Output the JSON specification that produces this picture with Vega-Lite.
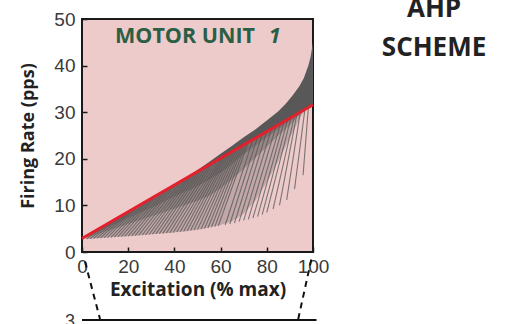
{
  "$schema": "https://vega.github.io/schema/vega-lite/v6.json",
  "width": 231,
  "height": 233,
  "autosize": "none",
  "padding": {"left": 82, "top": 19, "right": 201, "bottom": 72},
  "background": "white",
  "config": {
    "view": {"fill": "#eecbcb", "stroke": "#1a1a1a", "strokeWidth": 2},
    "axis": {"grid": false, "domain": false, "labelFont": "Liberation Sans", "labelFontSize": 19, "labelColor": "#3a3a3a", "tickColor": "#1a1a1a", "tickSize": -5, "tickWidth": 1.5, "titleFont": "Open Sans", "titleFontWeight": "bold", "titleColor": "#222222", "labelFlush": false}
  },
  "datasets": {
    "bands": [
      {"x": 2, "b1": 2.8, "b2": 3.1, "b3": 3.3, "red": 3.5},
      {"x": 10, "b1": 3.1, "b2": 4.4, "b3": 5.1, "red": 5.8},
      {"x": 20, "b1": 3.4, "b2": 6.0, "b3": 7.3, "red": 8.6},
      {"x": 30, "b1": 3.8, "b2": 7.6, "b3": 9.5, "red": 11.5},
      {"x": 40, "b1": 4.2, "b2": 9.3, "b3": 11.9, "red": 14.4},
      {"x": 50, "b1": 4.8, "b2": 11.0, "b3": 14.1, "red": 17.25},
      {"x": 55, "b1": 5.3, "b2": 12.0, "b3": 15.5, "red": 18.7},
      {"x": 60, "b1": 5.8, "b2": 13.6, "b3": 17.0, "red": 20.1},
      {"x": 65, "b1": 6.6, "b2": 15.6, "b3": 19.0, "red": 21.6},
      {"x": 70, "b1": 8.2, "b2": 17.8, "b3": 21.0, "red": 23.0},
      {"x": 75, "b1": 11.0, "b2": 20.2, "b3": 22.8, "red": 24.4},
      {"x": 80, "b1": 15.0, "b2": 22.6, "b3": 24.6, "red": 25.9},
      {"x": 85, "b1": 19.5, "b2": 25.0, "b3": 26.4, "red": 27.3},
      {"x": 90, "b1": 24.5, "b2": 27.2, "b3": 28.1, "red": 28.7},
      {"x": 95, "b1": 29.3, "b2": 29.9, "b3": 30.1, "red": 30.2},
      {"x": 97, "b1": 30.7, "b2": 30.7, "b3": 30.7, "red": 30.8}
    ],
    "wedge": [
      {"x": 45, "lo": 15.8, "hi": 16.0},
      {"x": 50, "lo": 17.25, "hi": 17.6},
      {"x": 55, "lo": 18.7, "hi": 19.3},
      {"x": 60, "lo": 20.1, "hi": 21.1},
      {"x": 65, "lo": 21.6, "hi": 22.8},
      {"x": 70, "lo": 23.0, "hi": 24.6},
      {"x": 75, "lo": 24.4, "hi": 26.3},
      {"x": 80, "lo": 25.9, "hi": 28.2},
      {"x": 85, "lo": 27.3, "hi": 30.2},
      {"x": 88, "lo": 28.2, "hi": 31.7},
      {"x": 91, "lo": 29.0, "hi": 33.5},
      {"x": 94, "lo": 29.9, "hi": 35.5},
      {"x": 96, "lo": 30.5, "hi": 37.3},
      {"x": 98, "lo": 31.0, "hi": 40.0},
      {"x": 99, "lo": 31.3, "hi": 42.0},
      {"x": 100, "lo": 31.6, "hi": 45.0}
    ],
    "fan": [
      {"id": 1, "x": 2, "y": 2.8}, {"id": 1, "x": 10, "y": 5.8},
      {"id": 2, "x": 5, "y": 2.9}, {"id": 2, "x": 16, "y": 7.5},
      {"id": 3, "x": 8, "y": 3.0}, {"id": 3, "x": 21, "y": 8.9},
      {"id": 4, "x": 11, "y": 3.1}, {"id": 4, "x": 25, "y": 10.1},
      {"id": 5, "x": 14, "y": 3.2}, {"id": 5, "x": 29, "y": 11.2},
      {"id": 6, "x": 17, "y": 3.3}, {"id": 6, "x": 33, "y": 12.4},
      {"id": 7, "x": 20, "y": 3.4}, {"id": 7, "x": 37, "y": 13.5},
      {"id": 8, "x": 23, "y": 3.5}, {"id": 8, "x": 41, "y": 14.7},
      {"id": 9, "x": 26, "y": 3.6}, {"id": 9, "x": 45, "y": 15.8},
      {"id": 10, "x": 29, "y": 3.7}, {"id": 10, "x": 48, "y": 16.7},
      {"id": 11, "x": 32, "y": 3.9}, {"id": 11, "x": 51, "y": 17.5},
      {"id": 12, "x": 35, "y": 4.0}, {"id": 12, "x": 54, "y": 18.4},
      {"id": 13, "x": 38, "y": 4.1}, {"id": 13, "x": 57, "y": 19.3},
      {"id": 14, "x": 41, "y": 4.3}, {"id": 14, "x": 60, "y": 20.1},
      {"id": 15, "x": 44, "y": 4.4}, {"id": 15, "x": 62, "y": 20.7},
      {"id": 16, "x": 47, "y": 4.6}, {"id": 16, "x": 64, "y": 21.3},
      {"id": 17, "x": 50, "y": 4.8}, {"id": 17, "x": 66, "y": 21.8},
      {"id": 18, "x": 53, "y": 5.0}, {"id": 18, "x": 68, "y": 22.4},
      {"id": 19, "x": 56, "y": 5.3}, {"id": 19, "x": 70, "y": 23.0},
      {"id": 20, "x": 59, "y": 5.6}, {"id": 20, "x": 72, "y": 23.6},
      {"id": 21, "x": 62, "y": 5.8}, {"id": 21, "x": 74, "y": 24.1},
      {"id": 22, "x": 64, "y": 6.0}, {"id": 22, "x": 76, "y": 24.7},
      {"id": 23, "x": 66, "y": 6.2}, {"id": 23, "x": 78, "y": 25.3},
      {"id": 24, "x": 68, "y": 6.5}, {"id": 24, "x": 80, "y": 25.9},
      {"id": 25, "x": 70, "y": 6.8}, {"id": 25, "x": 82, "y": 26.4},
      {"id": 26, "x": 72, "y": 7.0}, {"id": 26, "x": 84, "y": 27.0},
      {"id": 27, "x": 74, "y": 7.3}, {"id": 27, "x": 86, "y": 27.6},
      {"id": 28, "x": 76, "y": 7.6}, {"id": 28, "x": 87.5, "y": 28.0},
      {"id": 29, "x": 78, "y": 8.0}, {"id": 29, "x": 89, "y": 28.4},
      {"id": 30, "x": 80, "y": 8.5}, {"id": 30, "x": 90.5, "y": 28.9},
      {"id": 31, "x": 82.7, "y": 9.2}, {"id": 31, "x": 92, "y": 29.3},
      {"id": 32, "x": 85.5, "y": 10.0}, {"id": 32, "x": 93, "y": 29.6},
      {"id": 33, "x": 88.6, "y": 11.2}, {"id": 33, "x": 94.5, "y": 30.0},
      {"id": 34, "x": 92, "y": 13.5}, {"id": 34, "x": 96.5, "y": 30.6},
      {"id": 35, "x": 95.7, "y": 16.5}, {"id": 35, "x": 98, "y": 31.0},
      {"id": 36, "x": 3.5, "y": 2.85}, {"id": 36, "x": 13, "y": 6.6},
      {"id": 37, "x": 6.5, "y": 2.95}, {"id": 37, "x": 18.5, "y": 8.2},
      {"id": 38, "x": 9.5, "y": 3.05}, {"id": 38, "x": 23, "y": 9.5},
      {"id": 39, "x": 12.5, "y": 3.15}, {"id": 39, "x": 27, "y": 10.6},
      {"id": 40, "x": 15.5, "y": 3.25}, {"id": 40, "x": 31, "y": 11.8},
      {"id": 41, "x": 18.5, "y": 3.35}, {"id": 41, "x": 35, "y": 12.9},
      {"id": 42, "x": 21.5, "y": 3.45}, {"id": 42, "x": 39, "y": 14.1},
      {"id": 43, "x": 24.5, "y": 3.55}, {"id": 43, "x": 43, "y": 15.2},
      {"id": 44, "x": 27.5, "y": 3.65}, {"id": 44, "x": 46.5, "y": 16.2},
      {"id": 45, "x": 30.5, "y": 3.8}, {"id": 45, "x": 49.5, "y": 17.1},
      {"id": 46, "x": 33.5, "y": 3.95}, {"id": 46, "x": 52.5, "y": 18.0},
      {"id": 47, "x": 36.5, "y": 4.05}, {"id": 47, "x": 55.5, "y": 18.8},
      {"id": 48, "x": 39.5, "y": 4.2}, {"id": 48, "x": 58.5, "y": 19.7},
      {"id": 49, "x": 42.5, "y": 4.35}, {"id": 49, "x": 61, "y": 20.4},
      {"id": 50, "x": 45.5, "y": 4.5}, {"id": 50, "x": 63, "y": 21.0},
      {"id": 51, "x": 48.5, "y": 4.7}, {"id": 51, "x": 65, "y": 21.5},
      {"id": 52, "x": 51.5, "y": 4.9}, {"id": 52, "x": 67, "y": 22.1},
      {"id": 53, "x": 54.5, "y": 5.15}, {"id": 53, "x": 69, "y": 22.7},
      {"id": 54, "x": 57.5, "y": 5.45}, {"id": 54, "x": 71, "y": 23.3}
    ],
    "red": [{"x": 0, "y": 2.9}, {"x": 100, "y": 31.6}],
    "dashes": [
      {"id": "L", "x": 1.3, "y": -2.1}, {"id": "L", "x": 7.8, "y": -14.4},
      {"id": "R", "x": 99.4, "y": -1.3}, {"id": "R", "x": 93.6, "y": -14.4}
    ],
    "box": [{"x": 0, "x2": 101.5, "y": -14.6}],
    "labels": [
      {"x": 14.3, "y": 44.8, "t": "MOTOR UNIT", "kind": "mu"},
      {"x": 80.8, "y": 44.8, "t": "1", "kind": "one"},
      {"x": 152.4, "y": 50.4, "t": "AHP", "kind": "ahp"},
      {"x": 152.4, "y": 42.1, "t": "SCHEME", "kind": "ahp"},
      {"x": -5.2, "y": -16.2, "t": "3", "kind": "three"}
    ]
  },
  "layer": [
    {
      "data": {"name": "bands"},
      "mark": {"type": "area", "color": "#3c3c3c", "opacity": 0.25},
      "encoding": {
        "x": {"field": "x", "type": "quantitative", "scale": {"domain": [0, 100], "nice": false}, "axis": {"values": [0, 20, 40, 60, 80, 100], "title": "Excitation (% max)", "titleFontSize": 19, "labelPadding": 10, "titlePadding": 4}},
        "y": {"field": "b1", "type": "quantitative", "scale": {"domain": [0, 50], "nice": false}, "axis": {"values": [0, 10, 20, 30, 40, 50], "title": "Firing Rate (pps)", "titleFontSize": 18, "labelPadding": 12, "titlePadding": 16}},
        "y2": {"field": "red"}
      }
    },
    {
      "data": {"name": "bands"},
      "mark": {"type": "area", "color": "#3c3c3c", "opacity": 0.3},
      "encoding": {
        "x": {"field": "x", "type": "quantitative", "scale": {"domain": [0, 100], "nice": false}},
        "y": {"field": "b2", "type": "quantitative", "scale": {"domain": [0, 50], "nice": false}},
        "y2": {"field": "red"}
      }
    },
    {
      "data": {"name": "bands"},
      "mark": {"type": "area", "color": "#3c3c3c", "opacity": 0.3},
      "encoding": {
        "x": {"field": "x", "type": "quantitative", "scale": {"domain": [0, 100], "nice": false}},
        "y": {"field": "b3", "type": "quantitative", "scale": {"domain": [0, 50], "nice": false}},
        "y2": {"field": "red"}
      }
    },
    {
      "data": {"name": "wedge"},
      "mark": {"type": "area", "color": "#585858"},
      "encoding": {
        "x": {"field": "x", "type": "quantitative", "scale": {"domain": [0, 100], "nice": false}},
        "y": {"field": "lo", "type": "quantitative", "scale": {"domain": [0, 50], "nice": false}},
        "y2": {"field": "hi"}
      }
    },
    {
      "data": {"name": "fan"},
      "mark": {"type": "line", "color": "#555555", "strokeWidth": 1.1, "opacity": 0.75},
      "encoding": {
        "x": {"field": "x", "type": "quantitative", "scale": {"domain": [0, 100], "nice": false}},
        "y": {"field": "y", "type": "quantitative", "scale": {"domain": [0, 50], "nice": false}},
        "detail": {"field": "id", "type": "nominal"}
      }
    },
    {
      "data": {"name": "red"},
      "mark": {"type": "line", "color": "#e3202b", "strokeWidth": 3},
      "encoding": {
        "x": {"field": "x", "type": "quantitative", "scale": {"domain": [0, 100], "nice": false}},
        "y": {"field": "y", "type": "quantitative", "scale": {"domain": [0, 50], "nice": false}}
      }
    },
    {
      "data": {"name": "dashes"},
      "mark": {"type": "line", "color": "#111111", "strokeWidth": 2, "strokeDash": [6, 5]},
      "encoding": {
        "x": {"field": "x", "type": "quantitative", "scale": {"domain": [0, 100], "nice": false}},
        "y": {"field": "y", "type": "quantitative", "scale": {"domain": [0, 50], "nice": false}},
        "detail": {"field": "id", "type": "nominal"}
      }
    },
    {
      "data": {"name": "box"},
      "mark": {"type": "rule", "color": "#111111", "strokeWidth": 2},
      "encoding": {
        "x": {"field": "x", "type": "quantitative", "scale": {"domain": [0, 100], "nice": false}},
        "x2": {"field": "x2"},
        "y": {"field": "y", "type": "quantitative", "scale": {"domain": [0, 50], "nice": false}}
      }
    },
    {
      "data": {"name": "labels"},
      "transform": [{"filter": "datum.kind == 'mu'"}],
      "mark": {"type": "text", "font": "Open Sans", "fontWeight": "bold", "fontSize": 21.5, "color": "#2b5f45", "align": "left", "baseline": "alphabetic"},
      "encoding": {
        "x": {"field": "x", "type": "quantitative", "scale": {"domain": [0, 100], "nice": false}},
        "y": {"field": "y", "type": "quantitative", "scale": {"domain": [0, 50], "nice": false}},
        "text": {"field": "t"}
      }
    },
    {
      "data": {"name": "labels"},
      "transform": [{"filter": "datum.kind == 'one'"}],
      "mark": {"type": "text", "font": "Open Sans", "fontWeight": "bold", "fontStyle": "italic", "fontSize": 21.5, "color": "#2b5f45", "align": "left", "baseline": "alphabetic"},
      "encoding": {
        "x": {"field": "x", "type": "quantitative", "scale": {"domain": [0, 100], "nice": false}},
        "y": {"field": "y", "type": "quantitative", "scale": {"domain": [0, 50], "nice": false}},
        "text": {"field": "t"}
      }
    },
    {
      "data": {"name": "labels"},
      "transform": [{"filter": "datum.kind == 'ahp'"}],
      "mark": {"type": "text", "font": "Open Sans", "fontWeight": "bold", "fontSize": 26, "color": "#222222", "align": "center", "baseline": "alphabetic"},
      "encoding": {
        "x": {"field": "x", "type": "quantitative", "scale": {"domain": [0, 100], "nice": false}},
        "y": {"field": "y", "type": "quantitative", "scale": {"domain": [0, 50], "nice": false}},
        "text": {"field": "t"}
      }
    },
    {
      "data": {"name": "labels"},
      "transform": [{"filter": "datum.kind == 'three'"}],
      "mark": {"type": "text", "font": "Liberation Sans", "fontSize": 18, "color": "#3a3a3a", "align": "center", "baseline": "alphabetic"},
      "encoding": {
        "x": {"field": "x", "type": "quantitative", "scale": {"domain": [0, 100], "nice": false}},
        "y": {"field": "y", "type": "quantitative", "scale": {"domain": [0, 50], "nice": false}},
        "text": {"field": "t"}
      }
    }
  ]
}
